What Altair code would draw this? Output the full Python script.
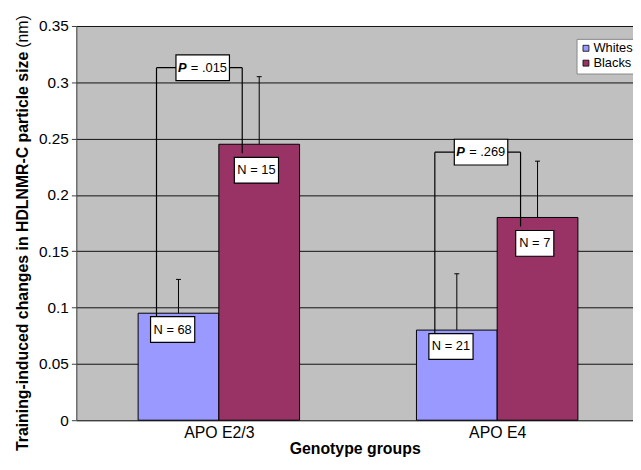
import altair as alt
import pandas as pd

# ---- data ----
categories = ["APO E2/3", "APO E4"]
groups = ["Whites", "Blacks"]
whites_mean = [0.095, 0.080]
whites_err = [0.030, 0.050]
blacks_mean = [0.245, 0.180]
blacks_err = [0.060, 0.050]
whites_n = ["N = 68", "N = 21"]
blacks_n = ["N = 15", "N = 7"]
p_values = [".015", ".269"]
y_ticks = [0, 0.05, 0.1, 0.15, 0.2, 0.25, 0.3, 0.35]

colors = ["#9999ff", "#993366"]
FONT = "Liberation Sans"

W, H = 562, 398
XU = W / 2.0          # px per category unit
YU = H / 0.35         # px per y unit
BW = 0.29             # bar width in category units

bar_rows, box_rows, seg_rows, p_rows = [], [], [], []
for i, cat in enumerate(categories):
    c = i + 0.512
    for g, m, e in [("Whites", whites_mean[i], whites_err[i]),
                    ("Blacks", blacks_mean[i], blacks_err[i])]:
        x0 = c - BW if g == "Whites" else c
        xm = x0 + BW / 2
        bar_rows.append(dict(cat=cat, group=g, x0=x0, x1=x0 + BW, xm=xm,
                             cl=xm - 2.5 / XU, cr=xm + 2.5 / XU,
                             mean=m, upper=m + e))
    # N boxes
    for txt, cx, cy in [(whites_n[i], c - 0.166, whites_mean[i] - 0.0145),
                        (blacks_n[i], c + 0.135, blacks_mean[i] - 0.023)]:
        w = 8 + 6.1 * len(txt)
        box_rows.append(dict(t=txt, cx=cx, cy=cy,
                             bx0=cx - w / 2 / XU, bx1=cx + w / 2 / XU,
                             by0=cy - 13 / YU, by1=cy + 13 / YU))
    # bracket
    top = blacks_mean[i] + blacks_err[i] + 0.008
    L, R = c - 0.224, c + 0.084
    seg_rows.append(dict(x=L, x2=L, y=top, y2=whites_mean[i] - 0.0145))
    seg_rows.append(dict(x=L, x2=R, y=top, y2=top))
    seg_rows.append(dict(x=R, x2=R, y=top, y2=blacks_mean[i] - 0.008))
    pcx = c - 0.058
    p_rows.append(dict(p="= " + p_values[i], P="P", cx=pcx, cy=top,
                       bx0=pcx - 27 / XU, bx1=pcx + 27 / XU,
                       by0=top - 13 / YU, by1=top + 13 / YU))

bars = pd.DataFrame(bar_rows)
boxes = pd.DataFrame(box_rows)
segs = pd.DataFrame(seg_rows)
pdf = pd.DataFrame(p_rows)

label_expr = " : ".join(
    [f"datum.value < {i + 1} ? '{c}'" for i, c in enumerate(categories[:-1])]
    + [f"'{categories[-1]}'"])

xscale = alt.Scale(domain=[0, 2], nice=False, zero=False)
yscale = alt.Scale(domain=[0, 0.35], nice=False)

x_axis = alt.Axis(values=[i + 0.512 for i in range(len(categories))],
                  labelExpr=label_expr, ticks=False, grid=False,
                  domainColor="#404040", labelFontSize=16, labelFont=FONT,
                  labelColor="black", labelPadding=4,
                  title="Genotype groups", titleFont=FONT, titleFontSize=16,
                  titleFontWeight="bold", titleColor="black", titlePadding=1)
y_axis = alt.Axis(values=y_ticks, labelExpr="format(datum.value, '~g')",
                  grid=True, gridColor="#111111", gridWidth=1,
                  domainColor="#404040", tickColor="#404040", tickSize=5,
                  labelFontSize=15.5, labelFont=FONT, labelColor="black",
                  labelPadding=3, title=None)

bar_layer = alt.Chart(bars).mark_rect(stroke="black", strokeWidth=1).encode(
    x=alt.X("x0:Q", scale=xscale, axis=x_axis),
    x2="x1:Q",
    y=alt.Y("mean:Q", scale=yscale, axis=y_axis),
    y2=alt.datum(0),
    color=alt.Color("group:N",
                    scale=alt.Scale(domain=groups, range=colors),
                    legend=alt.Legend(orient="none", legendX=505, legendY=13,
                                      title=None, fillColor="white",
                                      strokeColor="#888888", padding=3,
                                      labelFont=FONT, labelFontSize=13,
                                      labelColor="black", labelOffset=1,
                                      symbolType="square", symbolSize=36,
                                      symbolStrokeColor="black",
                                      symbolStrokeWidth=0.8, rowPadding=1)),
)

err_layer = alt.Chart(bars).mark_rule(color="black", strokeWidth=1).encode(
    x="xm:Q", y="mean:Q", y2="upper:Q")
cap_layer = alt.Chart(bars).mark_rule(color="black", strokeWidth=1).encode(
    x="cl:Q", x2="cr:Q", y="upper:Q")

seg_layer = alt.Chart(segs).mark_rule(color="black", strokeWidth=1.2).encode(
    x="x:Q", x2="x2:Q", y="y:Q", y2="y2:Q")

nbox_layer = alt.Chart(boxes).mark_rect(fill="white", stroke="black",
                                        strokeWidth=1.2).encode(
    x="bx0:Q", x2="bx1:Q", y="by0:Q", y2="by1:Q")
ntext_layer = alt.Chart(boxes).mark_text(font=FONT, fontSize=13, color="black",
                                         align="center", baseline="middle").encode(
    x="cx:Q", y="cy:Q", text="t:N")

pbox_layer = alt.Chart(pdf).mark_rect(fill="white", stroke="black",
                                      strokeWidth=1.2).encode(
    x="bx0:Q", x2="bx1:Q", y="by0:Q", y2="by1:Q")
pP_layer = alt.Chart(pdf).mark_text(font=FONT, fontSize=13, color="black",
                                    fontWeight="bold", fontStyle="italic",
                                    align="left", baseline="middle", dx=-25).encode(
    x="cx:Q", y="cy:Q", text="P:N")
pv_layer = alt.Chart(pdf).mark_text(font=FONT, fontSize=13, color="black",
                                    align="left", baseline="middle", dx=-12).encode(
    x="cx:Q", y="cy:Q", text="p:N")

ytitle_bold = alt.Chart(pd.DataFrame({"t": ["Training-induced changes in HDLNMR-C particle size"]})).mark_text(
    font=FONT, fontSize=16, fontWeight="bold", color="black", angle=270,
    align="right", baseline="middle").encode(
    text="t:N", x=alt.value(-54), y=alt.value(26))
ytitle_unit = alt.Chart(pd.DataFrame({"t": ["(nm)"]})).mark_text(
    font=FONT, fontSize=16, color="black", angle=270,
    align="left", baseline="middle").encode(
    text="t:N", x=alt.value(-54), y=alt.value(22))

chart = alt.layer(
    bar_layer, err_layer, cap_layer, seg_layer,
    nbox_layer, ntext_layer, pbox_layer, pP_layer, pv_layer,
    ytitle_bold, ytitle_unit,
).properties(
    width=W, height=H,
    autosize=alt.AutoSizeParams(type="none"),
    padding={"left": 69, "top": 16, "right": 0, "bottom": 38},
    background="white",
).configure_view(fill="#c0c0c0", stroke=None)

chart.save("out.html", embed_options={"renderer": "svg", "actions": False})
